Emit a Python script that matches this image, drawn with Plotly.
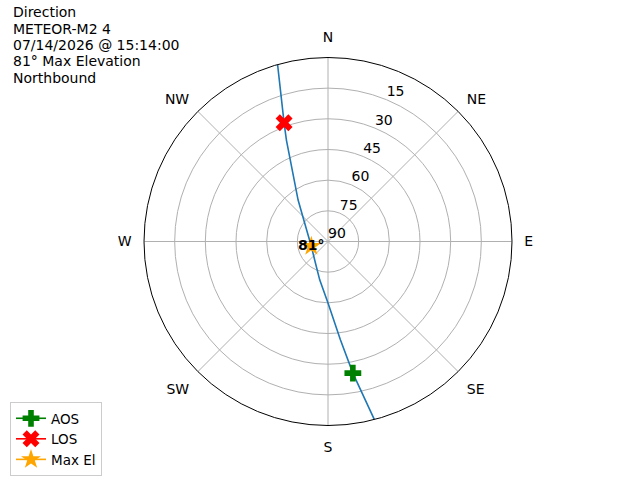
import plotly.graph_objects as go

# pass track, south (AOS side) to north (LOS side): azimuth deg, elevation deg
track_az = [165.4, 169.3, 172.8, 180.0, 192.2, 212.1, 254.0, 309.6, 324.2, 337.7, 339.7, 344.1]
track_el = [0.0, 24.5, 41.6, 59.9, 70.8, 78.2, 81.5, 75.0, 65.0, 36.4, 28.1, 0.0]

aos_az, aos_el = [169.3], [24.5]
los_az, los_el = [339.7], [28.1]
max_az, max_el = [254.0], [81.5]

compass_deg = [0, 45, 90, 135, 180, 225, 270, 315]
compass_txt = ["N", "NE", "E", "SE", "S", "SW", "W", "NW"]
ring_vals = [0, 15, 30, 45, 60, 75]
ring_txt = ["90", "75", "60", "45", "30", "15"]

title_lines = ["Direction", "METEOR-M2 4", "07/14/2026 @ 15:14:00",
               "81° Max Elevation", "Northbound"]


def zen(el):
    # radius = zenith distance
    return [90 - e for e in el]


fig = go.Figure()

fig.add_trace(go.Scatterpolar(
    r=zen(track_el), theta=track_az, mode="lines",
    line=dict(color="#1f77b4", width=1.6), showlegend=False, hoverinfo="skip"))

fig.add_trace(go.Scatterpolar(
    r=zen(aos_el), theta=aos_az, mode="lines+markers", name="AOS",
    line=dict(color="green", width=1.6),
    marker=dict(symbol="cross", size=14, color="green")))

fig.add_trace(go.Scatterpolar(
    r=zen(los_el), theta=los_az, mode="lines+markers", name="LOS",
    line=dict(color="red", width=1.6),
    marker=dict(symbol="x", size=15, color="red")))

fig.add_trace(go.Scatterpolar(
    r=zen(max_el), theta=max_az, mode="lines+markers", name="Max El",
    line=dict(color="orange", width=1.6),
    marker=dict(symbol="star", size=15, color="orange")))

fig.add_trace(go.Scatterpolar(
    r=zen(max_el), theta=max_az, mode="text", text=["<b>81°</b>"],
    textposition="middle center", textfont=dict(size=14, color="black"),
    showlegend=False, hoverinfo="skip"))

# elevation ring labels, matplotlib style (along the 22.5 deg spoke)
fig.add_trace(go.Scatterpolar(
    r=ring_vals, theta=[22.5] * len(ring_vals), mode="text", text=ring_txt,
    textposition="top right", textfont=dict(size=14, color="black"),
    showlegend=False, hoverinfo="skip"))

# title block, one annotation per line to keep matplotlib-like spacing
for i, line in enumerate(title_lines):
    fig.add_annotation(
        text=line, xref="paper", yref="paper",
        x=11 / 640, y=1 - (12.5 + 16.25 * i) / 480,
        xanchor="left", yanchor="middle",
        showarrow=False, font=dict(size=14, color="black"))

fig.update_layout(
    width=640, height=480,
    margin=dict(l=0, r=0, t=0, b=0),
    paper_bgcolor="white",
    font=dict(family="DejaVu Sans", size=14, color="black"),
    polar=dict(
        domain=dict(x=[144 / 640, 512 / 640],
                    y=[(480 - 425.7) / 480, (480 - 57.3) / 480]),
        bgcolor="white",
        angularaxis=dict(
            rotation=90, direction="clockwise",
            tickmode="array", tickvals=compass_deg, ticktext=compass_txt,
            showline=True, linecolor="black", linewidth=1,
            gridcolor="#b0b0b0", gridwidth=0.8,
            ticks="outside", ticklen=9, tickcolor="rgba(0,0,0,0)"),
        radialaxis=dict(
            range=[0, 90], tickmode="array", tickvals=ring_vals,
            showticklabels=False, showline=False, ticks="",
            gridcolor="#b0b0b0", gridwidth=0.8)),
    legend=dict(
        x=10 / 640, y=(480 - 402) / 480, xanchor="left", yanchor="top",
        bordercolor="#cccccc", borderwidth=1, bgcolor="white",
        font=dict(size=13.5)),
)

# drop the browser's default body margin so figure pixels line up with the page
fig.write_html("out.html", config={"displayModeBar": False},
               post_script="document.body.style.margin='0';")
